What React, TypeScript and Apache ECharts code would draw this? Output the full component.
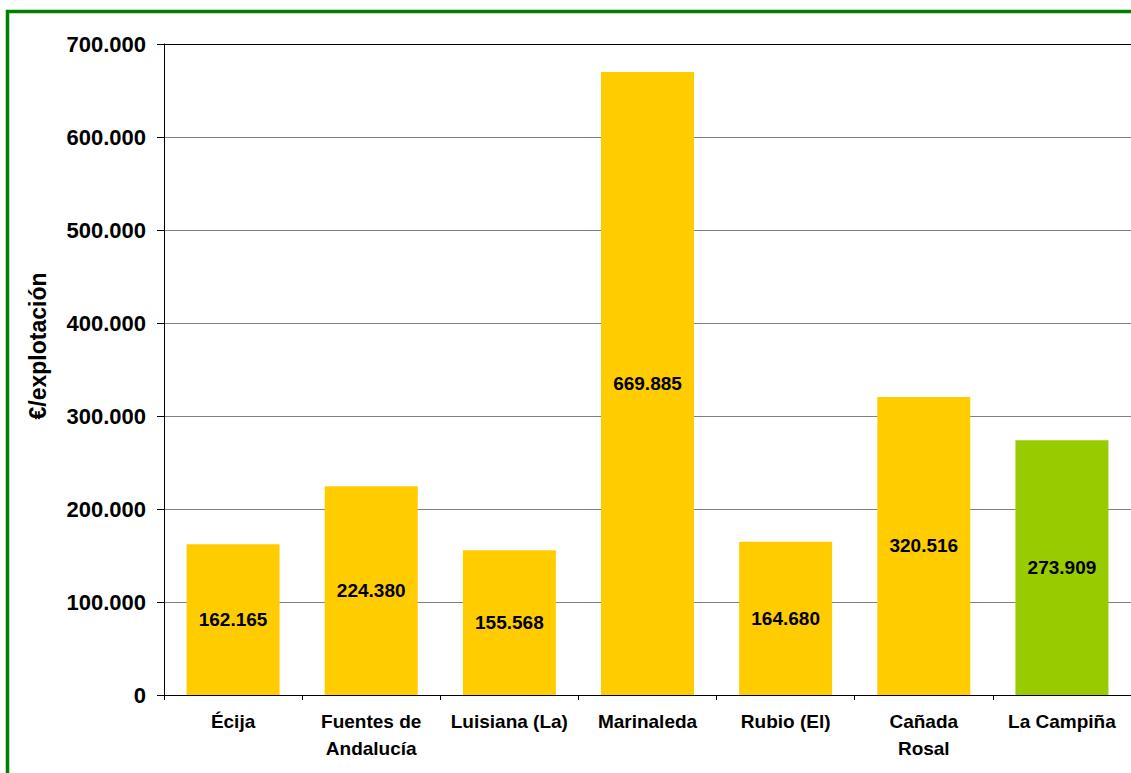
import React, { useEffect, useRef } from "react";
import * as echarts from "echarts";

const categories = [
  "Écija",
  "Fuentes de\nAndalucía",
  "Luisiana (La)",
  "Marinaleda",
  "Rubio (El)",
  "Cañada\nRosal",
  "La Campiña",
];
const values = [162165, 224380, 155568, 669885, 164680, 320516, 273909];
const highlightIndex = 6;
const yTicks = [0, 100000, 200000, 300000, 400000, 500000, 600000, 700000];
const yTitle = "€/explotación";

const fmt = (v: number) => {
  if (v === 0) return "0";
  const s = Math.round(v).toString();
  return s.replace(/\B(?=(\d{3})+(?!\d))/g, ".");
};

export default function App() {
  const ref = useRef<HTMLDivElement>(null);
  useEffect(() => {
    if (!ref.current) return;
    const chart = echarts.init(ref.current, undefined, { renderer: "svg" });
    const font = "Liberation Sans, Arial, sans-serif";
    chart.setOption({
      animation: false,
      backgroundColor: "#ffffff",
      textStyle: { fontFamily: font },
      graphic: [
        {
          type: "rect",
          shape: { x: 7.5, y: 11.5, width: 2000, height: 2000 },
          style: { fill: "none", stroke: "#008000", lineWidth: 3.5 },
          silent: true,
        },
        {
          type: "text",
          x: 38,
          y: 346,
          rotation: Math.PI / 2,
          style: {
            text: yTitle,
            fill: "#000",
            font: `bold 23px ${font}`,
            textAlign: "center",
            textVerticalAlign: "middle",
          },
          silent: true,
        },
      ],
      grid: { left: 164, top: 44, right: -2, bottom: 78, containLabel: false },
      xAxis: {
        type: "category",
        data: categories,
        axisLine: { lineStyle: { color: "#000", width: 1 } },
        axisTick: { show: true, length: 5, lineStyle: { color: "#000" }, alignWithLabel: false },
        axisLabel: {
          color: "#000",
          fontWeight: "bold",
          fontSize: 19,
          fontFamily: font,
          lineHeight: 27,
          margin: 13,
          interval: 0,
        },
      },
      yAxis: {
        type: "value",
        min: 0,
        max: 700000,
        interval: 100000,
        axisLine: { show: true, lineStyle: { color: "#000", width: 1 } },
        axisTick: { show: true, length: 7, lineStyle: { color: "#000" } },
        axisLabel: {
          color: "#000",
          fontWeight: "bold",
          fontSize: 22,
          fontFamily: font,
          margin: 18,
          formatter: (v: number) => (yTicks.includes(v) ? fmt(v) : ""),
        },
        splitLine: {
          show: true,
          lineStyle: {
            color: ["#808080", "#808080", "#808080", "#808080", "#808080", "#808080", "#808080", "#000000"],
            width: 1,
          },
        },
      },
      series: [
        {
          type: "bar",
          barWidth: 93,
          data: values.map((v, i) => ({
            value: v,
            itemStyle: { color: i === highlightIndex ? "#99CC00" : "#FFCC00" },
          })),
          label: {
            show: true,
            position: "inside",
            color: "#000",
            fontWeight: "bold",
            fontSize: 19,
            fontFamily: font,
            formatter: (p: any) => fmt(p.value),
          },
        },
      ],
    });
    return () => chart.dispose();
  }, []);
  return (
    <div
      ref={ref}
      style={{ position: "absolute", left: 0, top: 0, width: 1131, height: 773 }}
    />
  );
}
